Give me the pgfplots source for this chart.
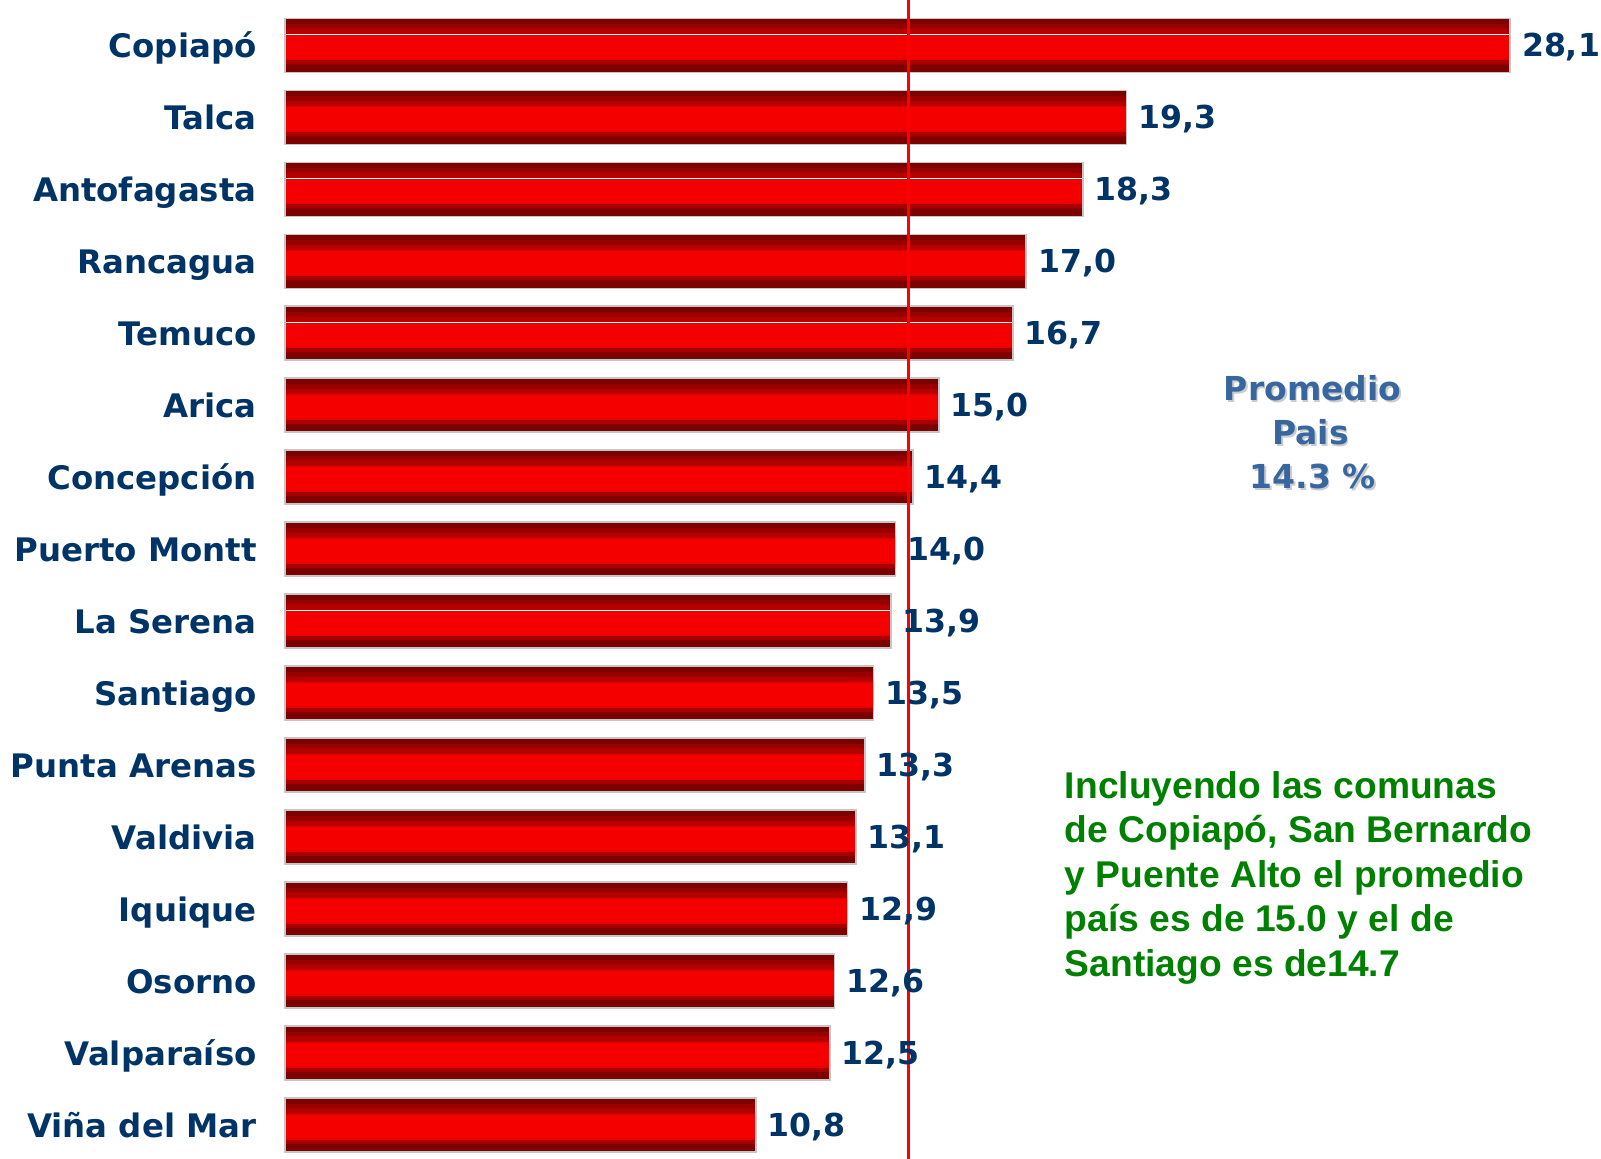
\documentclass[border=0pt]{standalone}
\usepackage{pgfplots}
\pgfplotsset{compat=1.18}
\usepackage{fontspec}
\setmainfont{DejaVu Sans}
\newfontfamily\arialfont{Liberation Sans}
\definecolor{navy}{RGB}{0,51,102}
\definecolor{steel}{RGB}{56,103,160}
\definecolor{dgreen}{RGB}{0,128,0}
\definecolor{ra}{RGB}{124,0,0}
\definecolor{rb}{RGB}{152,0,0}
\definecolor{rc}{RGB}{182,0,0}
\definecolor{rc2}{RGB}{168,0,0}
\definecolor{rd}{RGB}{225,0,0}
\definecolor{re}{RGB}{245,0,0}
\pgfdeclareverticalshading{barshade}{100bp}{color(0bp)=(ra); color(25bp)=(ra); color(32.5bp)=(ra); color(33bp)=(rc2); color(36.5bp)=(rc2); color(37bp)=(rd); color(39bp)=(re); color(58.5bp)=(re); color(60.5bp)=(rd); color(61bp)=(rc); color(65.5bp)=(rc); color(66bp)=(rb); color(70bp)=(rb); color(70.5bp)=(ra); color(100bp)=(ra)}
\pgfplotsset{
  barst/.style={xbar, bar shift=0pt, bar width=27pt, shade, shading=barshade, draw=gray!45, line width=0.8pt,
    point meta=explicit symbolic, nodes near coords,
    nodes near coords style={anchor=base west, inner sep=0pt, xshift=5.5pt, yshift=-5.6pt, font=\bfseries\fontsize{15.8}{18}\selectfont, text=navy},
    forget plot},
  wline/.style={white, line width=0.7pt, forget plot}
}
\tikzset{
  promshadow/.style={anchor=base, inner sep=0pt, font=\bfseries\fontsize{16.5}{22}\selectfont, text=gray!40, xshift=0.9pt, yshift=-0.9pt},
  prom/.style={anchor=base, inner sep=0pt, font=\bfseries\fontsize{16.5}{22}\selectfont, text=steel},
  gtxt/.style={anchor=base west, inner sep=0pt, font=\arialfont\bfseries\fontsize{18.6}{22}\selectfont, text=dgreen}
}
\begin{document}
\begin{tikzpicture}
\begin{axis}[
  at={(0,0)}, anchor=south west,
  scale only axis, width=612.6pt, height=575.8pt,
  xmin=0, xmax=28.1, ymin=-0.5, ymax=15.5,
  clip=false,
  axis line style={draw=none},
  hide x axis,
  major tick length=0pt,
  ytick={0,...,15},
  yticklabels={Viña del Mar,Valparaíso,Osorno,Iquique,Valdivia,Punta Arenas,Santiago,La Serena,Puerto Montt,Concepción,Arica,Temuco,Rancagua,Antofagasta,Talca,Copiapó},
  yticklabel style={font=\bfseries\fontsize{16.2}{18}\selectfont, text=navy, anchor=base east, inner sep=0pt, xshift=-14pt, yshift=-6.3pt},
]
\addplot[barst] coordinates {(28.1,15) [{28,1}]};
\addplot[barst] coordinates {(19.3,14) [{19,3}]};
\addplot[barst] coordinates {(18.3,13) [{18,3}]};
\addplot[barst] coordinates {(17.0,12) [{17,0}]};
\addplot[barst] coordinates {(16.7,11) [{16,7}]};
\addplot[barst] coordinates {(15.0,10) [{15,0}]};
\addplot[barst] coordinates {(14.4,9) [{14,4}]};
\addplot[barst] coordinates {(14.0,8) [{14,0}]};
\addplot[barst] coordinates {(13.9,7) [{13,9}]};
\addplot[barst] coordinates {(13.5,6) [{13,5}]};
\addplot[barst] coordinates {(13.3,5) [{13,3}]};
\addplot[barst] coordinates {(13.1,4) [{13,1}]};
\addplot[barst] coordinates {(12.9,3) [{12,9}]};
\addplot[barst] coordinates {(12.6,2) [{12,6}]};
\addplot[barst] coordinates {(12.5,1) [{12,5}]};
\addplot[barst] coordinates {(10.8,0) [{10,8}]};
\addplot[wline] coordinates {(0.03,15.15) (28.07,15.15)};
\addplot[wline] coordinates {(0.03,13.15) (18.27,13.15)};
\addplot[wline] coordinates {(0.03,11.15) (16.67,11.15)};
\addplot[wline] coordinates {(0.03,7.15) (13.87,7.15)};
\addplot[red, line width=1.5pt, forget plot] coordinates {(14.3,-0.6) (14.3,15.7)};
\node[promshadow] at (axis cs:23.57,10.06) {Promedio};
\node[prom] at (axis cs:23.57,10.06) {Promedio};
\node[promshadow] at (axis cs:23.52,9.45) {Pais};
\node[prom] at (axis cs:23.52,9.45) {Pais};
\node[promshadow] at (axis cs:23.57,8.84) {14.3 \%};
\node[prom] at (axis cs:23.57,8.84) {14.3 \%};
\node[gtxt] at (axis cs:17.88,4.53) {Incluyendo las comunas};
\node[gtxt] at (axis cs:17.88,3.92) {de Copiapó, San Bernardo};
\node[gtxt] at (axis cs:17.88,3.30) {y Puente Alto el promedio};
\node[gtxt] at (axis cs:17.88,2.69) {país es de 15.0 y el de};
\node[gtxt] at (axis cs:17.88,2.07) {Santiago es de14.7};
\end{axis}
\pgfresetboundingbox
\useasboundingbox (-142.5pt,1.5pt) rectangle (658pt,580.5pt);
\end{tikzpicture}
\end{document}
